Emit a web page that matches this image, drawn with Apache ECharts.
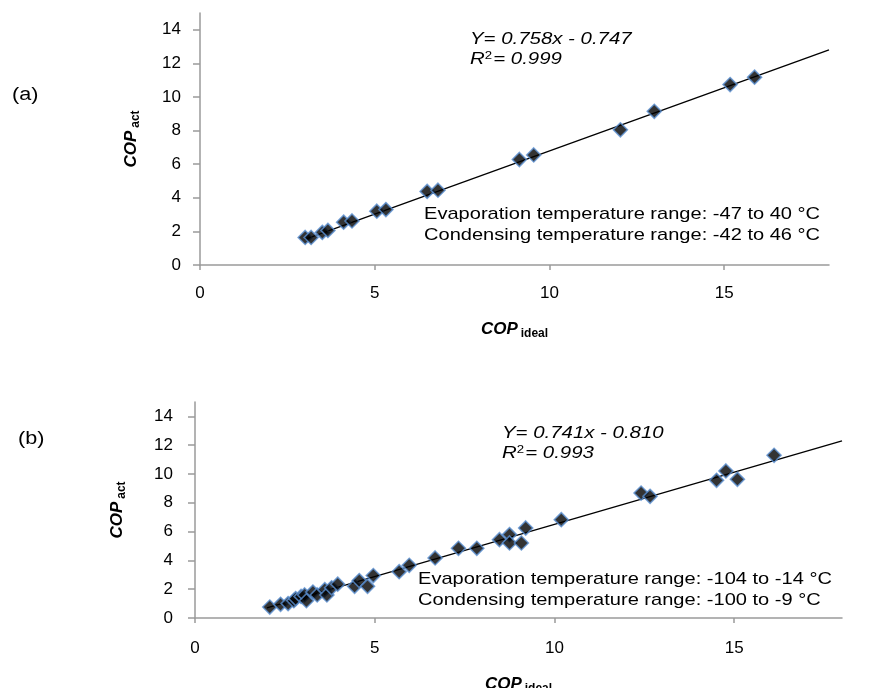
<!DOCTYPE html>
<html><head><meta charset="utf-8">
<script src="https://cdn.jsdelivr.net/npm/echarts@6/dist/echarts.min.js"></script>
<style>html,body{margin:0;padding:0;background:#fff}#c{width:870px;height:688px}</style>
</head><body><div id="c"></div>
<script>
// ---- data ----
var xTicks = [0, 5, 10, 15];
var yTicks = [0, 2, 4, 6, 8, 10, 12, 14];

var topX = [3.01, 3.18, 3.50, 3.66, 4.11, 4.35, 5.06, 5.32, 6.50, 6.81, 9.14, 9.55, 12.03, 13.00, 15.17, 15.87];
var topY = [1.64, 1.64, 1.94, 2.06, 2.55, 2.62, 3.20, 3.30, 4.38, 4.45, 6.28, 6.55, 8.05, 9.15, 10.74, 11.18];
var topFitX = [3.0, 18.0];
var topFitY = [1.52, 12.80];

var botX = [2.08, 2.38, 2.59, 2.75, 2.80, 2.95, 3.05, 3.10, 3.28, 3.40, 3.61, 3.67, 3.80, 3.97, 4.44, 4.57, 4.80, 4.96, 5.68, 5.96, 6.68, 7.33, 7.84, 8.47, 8.75, 8.75, 9.08, 9.20, 10.19, 12.41, 12.66, 14.51, 14.77, 15.09, 16.11];
var botY = [0.76, 0.95, 1.00, 1.20, 1.35, 1.50, 1.60, 1.20, 1.80, 1.60, 1.97, 1.60, 2.10, 2.35, 2.20, 2.60, 2.20, 2.95, 3.22, 3.66, 4.17, 4.84, 4.84, 5.44, 5.79, 5.21, 5.21, 6.25, 6.83, 8.68, 8.45, 9.56, 10.21, 9.63, 11.30];
var botFitX = [2.0, 18.0];
var botFitY = [0.70, 12.30];

function pairs(xs, ys) { return xs.map(function (x, i) { return [x, ys[i]]; }); }

var FONT = 'Liberation Sans, Arial, sans-serif';
var axisGrey = '#9a9a9a';

function titleRich() {
  return {
    b: { fontSize: 17, fontWeight: 'bold', fontStyle: 'italic', fontFamily: FONT, color: '#000' },
    s: { fontSize: 12, fontWeight: 'bold', fontFamily: FONT, color: '#000', padding: [9, 0, 0, 3] }
  };
}
function xAxis(gi, labelMargin, gap) {
  return {
    gridIndex: gi, type: 'value', min: 0, max: 18,
    axisLine: { show: true, lineStyle: { color: axisGrey, width: 1.5 } },
    axisTick: { show: true, length: 5, inside: false, customValues: xTicks, lineStyle: { color: axisGrey, width: 1.5 } },
    axisLabel: { customValues: xTicks, color: '#000', fontSize: 17, fontFamily: FONT, margin: labelMargin },
    splitLine: { show: false },
    name: '{b|COP}{s|ideal}', nameLocation: 'middle', nameGap: gap,
    nameTextStyle: { rich: titleRich() }
  };
}
function yAxis(gi, labelMargin, gap) {
  return {
    gridIndex: gi, type: 'value', min: 0, max: 15,
    axisLine: { show: true, lineStyle: { color: axisGrey, width: 1.5 } },
    axisTick: { show: true, length: 7, inside: false, customValues: yTicks, lineStyle: { color: axisGrey, width: 1.5 } },
    axisLabel: { customValues: yTicks, color: '#000', fontSize: 17, fontFamily: FONT, margin: labelMargin },
    splitLine: { show: false },
    name: '{b|COP}{s|act}', nameLocation: 'middle', nameGap: gap, nameRotate: 90,
    nameTextStyle: { rich: titleRich() }
  };
}

var markerStyle = { color: '#000', borderColor: '#5a8fd0', borderWidth: 1.6 };

function eqText(left, top, a, b) {
  return {
    type: 'text', left: left, top: top, z: 10, scaleX: 1.2, originX: 0,
    style: {
      text: '{i|' + a + '}\n{i|R}{sup|2}{i|= ' + b + '}',
      fontFamily: FONT,
      rich: {
        i: { fontSize: 17, fontStyle: 'italic', fontFamily: FONT, color: '#000', lineHeight: 20 },
        sup: { fontSize: 11, fontFamily: FONT, color: '#000', padding: [0, 1, 8, 0], lineHeight: 20 }
      }
    }
  };
}
function rangeText(left, top, l1, l2) {
  return {
    type: 'text', left: left, top: top, z: 10, scaleX: 1.18, originX: 0,
    style: { text: l1 + '\n' + l2, fontSize: 17, fontFamily: FONT, fill: '#000', lineHeight: 21 }
  };
}

var chart = echarts.init(document.getElementById('c'), null, { renderer: 'canvas' });
chart.setOption({
  animation: false,
  backgroundColor: '#fff',
  grid: [
    { left: 200, right: 41, top: 13, bottom: 423, outerBoundsMode: 'none', containLabel: false },
    { left: 195, right: 28, top: 402, bottom: 70, outerBoundsMode: 'none', containLabel: false }
  ],
  xAxis: [xAxis(0, 20, 54), xAxis(1, 22, 56)],
  yAxis: [yAxis(0, 19, 58), yAxis(1, 22, 67)],
  series: [
    { type: 'line', xAxisIndex: 0, yAxisIndex: 0, data: pairs(topFitX, topFitY), showSymbol: false, symbol: 'none', lineStyle: { color: '#000', width: 1.3 }, z: 1, silent: true },
    { type: 'scatter', xAxisIndex: 0, yAxisIndex: 0, data: pairs(topX, topY), symbol: 'diamond', symbolSize: 14, itemStyle: markerStyle, z: 2 },
    { type: 'line', xAxisIndex: 1, yAxisIndex: 1, data: pairs(botFitX, botFitY), showSymbol: false, symbol: 'none', lineStyle: { color: '#000', width: 1.3 }, z: 1, silent: true },
    { type: 'scatter', xAxisIndex: 1, yAxisIndex: 1, data: pairs(botX, botY), symbol: 'diamond', symbolSize: 14, itemStyle: markerStyle, z: 2 }
  ],
  graphic: [
    { type: 'text', left: 12, top: 86, scaleX: 1.2, originX: 0, style: { text: '(a)', fontSize: 18, fontFamily: FONT, fill: '#000' } },
    { type: 'text', left: 18, top: 430, scaleX: 1.2, originX: 0, style: { text: '(b)', fontSize: 18, fontFamily: FONT, fill: '#000' } },
    eqText(470, 31, 'Y= 0.758x - 0.747', '0.999'),
    eqText(502, 425, 'Y= 0.741x - 0.810', '0.993'),
    rangeText(424, 204, 'Evaporation temperature range: -47 to 40 °C', 'Condensing temperature range: -42 to 46 °C'),
    rangeText(418, 569, 'Evaporation temperature range: -104 to -14 °C', 'Condensing temperature range: -100 to -9 °C')
  ]
});
</script></body></html>
